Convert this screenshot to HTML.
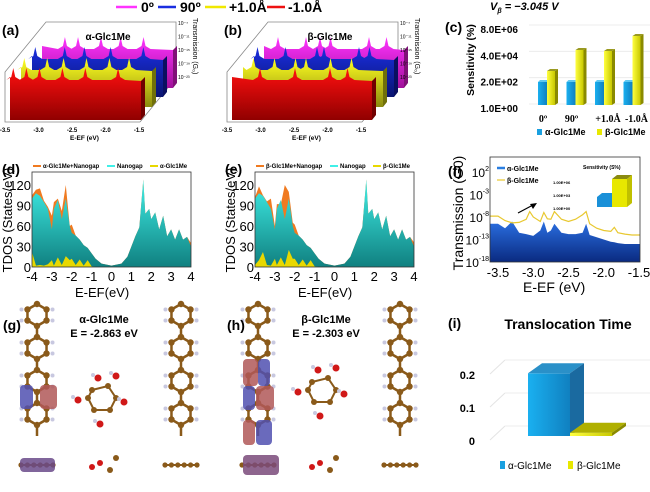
<!DOCTYPE html>
<html><head><meta charset="utf-8"><style>
body{margin:0;background:#fff;width:650px;height:487px;overflow:hidden;font-family:"Liberation Sans",sans-serif}
svg text{font-family:"Liberation Sans","DejaVu Sans",sans-serif}
</style></head><body>
<svg id="s" width="650" height="487" viewBox="0 0 650 487">
<defs>
<linearGradient id="gm" x1="0" y1="0" x2="0" y2="1"><stop offset="0" stop-color="#ff33ff"/><stop offset="1" stop-color="#a0109a"/></linearGradient>
<linearGradient id="gb" x1="0" y1="0" x2="0" y2="1"><stop offset="0" stop-color="#1a2ee0"/><stop offset="1" stop-color="#0a1470"/></linearGradient>
<linearGradient id="gy" x1="0" y1="0" x2="0" y2="1"><stop offset="0" stop-color="#ffff20"/><stop offset="1" stop-color="#8a8a10"/></linearGradient>
<linearGradient id="gr" x1="0" y1="0" x2="0" y2="1"><stop offset="0" stop-color="#ff1010"/><stop offset="1" stop-color="#900000"/></linearGradient>
<linearGradient id="gc" x1="0" y1="0" x2="0" y2="1"><stop offset="0" stop-color="#40f0e8"/><stop offset="1" stop-color="#108080"/></linearGradient>
<linearGradient id="gf" x1="0" y1="0" x2="0" y2="1"><stop offset="0" stop-color="#2a6ee0"/><stop offset="1" stop-color="#0a2a80"/></linearGradient>
<linearGradient id="gbar" x1="0" y1="0" x2="1" y2="0"><stop offset="0" stop-color="#1ab0f0"/><stop offset="1" stop-color="#1080c0"/></linearGradient>
<linearGradient id="ybar" x1="0" y1="0" x2="1" y2="0"><stop offset="0" stop-color="#ffff40"/><stop offset="1" stop-color="#c8c800"/></linearGradient>
</defs>
<g font-weight="bold" font-size="14">
<line x1="116" y1="7" x2="137" y2="7" stroke="#ff33ff" stroke-width="2.5"/><text x="141" y="12">0º</text>
<line x1="158" y1="7" x2="176" y2="7" stroke="#1a2ee0" stroke-width="2.5"/><text x="180" y="12">90º</text>
<line x1="205" y1="7" x2="226" y2="7" stroke="#f0e800" stroke-width="2.5"/><text x="229" y="12">+1.0Å</text>
<line x1="267" y1="7" x2="285" y2="7" stroke="#ee1111" stroke-width="2.5"/><text x="288" y="12">-1.0Å</text>
</g>
<text x="490" y="10" font-size="11" font-style="italic" font-weight="bold" font-family="Liberation Serif">V<tspan font-size="7" dy="3">β</tspan><tspan dy="-3"> = −3.045 V</tspan></text>
<g id="pa"></g><g id="pb"></g><g id="pc"></g><g id="pd"></g><g id="pe"></g><g id="pf"></g><g id="pg"></g><g id="pi"></g>
</svg>
<script>
const NS="http://www.w3.org/2000/svg";
function mk(p,t,a,txt){const e=document.createElementNS(NS,t);for(const k in a)e.setAttribute(k,a[k]);if(txt!==undefined)e.textContent=txt;p.appendChild(e);return e;}
// ---- data ----
const waterfallLayersA=[[-3.15,-2.95,-2.6,-2.3,-1.95],[-3.45,-3.0,-2.7,-2.3,-1.8],[-3.45,-3.1,-2.85,-2.5,-2.15,-1.85],[-3.45,-3.25,-3.05,-2.7,-2.35,-1.85]];
const waterfallLayersB=[[-3.3,-2.9,-2.7,-2.55,-2.0,-1.75],[-3.45,-3.05,-2.6,-2.5,-2.0,-1.85],[-3.35,-3.05,-2.75,-2.6,-2.25,-1.95],[-3.1,-2.6,-2.1,-1.85]];
const sensCats=["0º","90º","+1.0Å","-1.0Å"];
const sensAlpha=[2.3,2.3,2.3,2.3];
const sensBeta=[3.4,5.5,5.4,6.9];
const sensTicks=[0,2.3,4.6,6.9];const sensTickLabels=["1.0E+00","2.0E+02","4.0E+04","8.0E+06"];
const dosE=[-4,-3.8,-3.6,-3.4,-3.2,-3,-2.9,-2.7,-2.5,-2.3,-2.1,-2,-1.8,-1.6,-1.4,-1.2,-1,-0.8,-0.5,0,0.5,0.8,1,1.2,1.4,1.6,1.7,1.9,2,2.2,2.4,2.6,2.8,3,3.2,3.4,3.6,3.8,4];
const dosGap=[100,108,104,95,85,55,85,98,70,100,60,50,46,40,32,28,20,12,5,2,5,15,30,45,58,128,78,85,70,80,55,75,45,55,40,55,40,44,30];
const dosComplexA=[105,113,115,97,88,75,95,100,82,120,60,62,46,40,32,28,20,12,5,2,5,15,30,45,58,128,78,85,70,80,55,75,45,55,40,55,40,44,35];
const dosMolA=[22,2,3,2,4,10,2,14,3,16,10,12,3,11,2,10,1,0,0,0,0,0,0,0,0,0,0,0,0,0,0,0,0,0,0,0,0,0,0];
const dosComplexB=[102,118,105,96,100,60,92,92,120,110,65,62,46,40,32,28,20,12,5,2,5,15,30,45,58,128,78,85,70,80,55,75,45,55,40,55,40,44,36];
const dosMolB=[3,10,22,3,2,12,3,14,3,25,12,12,3,11,2,10,1,0,0,0,0,0,0,0,0,0,0,0,0,0,0,0,0,0,0,0,0,0,0];
const trE=[-3.5,-3.4,-3.3,-3.2,-3.1,-3.05,-3.0,-2.9,-2.85,-2.8,-2.75,-2.7,-2.6,-2.5,-2.4,-2.3,-2.25,-2.2,-2.1,-2.0,-1.9,-1.85,-1.8,-1.7,-1.6,-1.5];
const trAlpha=[-9.5,-10.5,-9,-11.5,-11.8,-12,-12.2,-11,-9,-11.5,-11,-9.5,-11.5,-11.8,-11.8,-11.5,-9.5,-12,-12.5,-13,-13.5,-13.6,-13.8,-14,-14,-14];
const trBeta=[-7.8,-8.8,-9.3,-9.2,-8.5,-6.8,-8,-9,-7,-8.4,-8.5,-6.8,-8.5,-9,-8.5,-7.5,-6.8,-9.5,-10.5,-11,-11.2,-10.3,-11.5,-11.8,-12,-12];
const trTicks=[2,-3,-8,-13,-18];
const transCats=["α-Glc1Me","β-Glc1Me"];const transVals=[0.19,0.01];const transTicks=[0,0.1,0.2];
// ---- (a),(b) waterfall ----
function waterfall(g,ox,label,layers,title,w){
  mk(g,"text",{x:ox+2,y:35,"font-size":14,"font-weight":"bold",},label);
  mk(g,"polyline",{points:`${ox+140},122 ${ox+5},122 ${ox+5},72 ${ox+46},22 ${ox+176},22 ${ox+176},78 ${ox+140},122`,fill:"none",stroke:"#888","stroke-width":0.8});
  const cols=["url(#gm)","url(#gb)","url(#gy)","url(#gr)"],side=["#801078","#0a1060","#70700a","#700000"],names=["layer-0deg","layer-90deg","layer-plus1","layer-minus1"];
  const offs=[[42,46,88],[32,56,97],[21,67,107],[10,77,120]];
  const ex=e=>(e+3.5)/2*w;
  for(let i=0;i<4;i++){const [dx,top,bot]=offs[i];const x0=ox+dx,x1=x0+w;
    let pts=`${x0},${bot} ${x0},${top}`;
    const sp=layers[i].slice().sort((a,b)=>a-b);
    for(const e of sp){const x=x0+ex(e);pts+=` ${x-7},${top+3} ${x-2},${top} ${x},${top-9} ${x+2},${top} ${x+7},${top+3}`;}
    pts+=` ${x1},${top+4} ${x1},${bot}`;
    const p=mk(g,"polygon",{points:pts,fill:cols[i]});
    mk(g,"polygon",{points:`${x1},${top+4} ${x1+4},${top} ${x1+4},${bot-5} ${x1},${bot}`,fill:side[i]});
  }
  mk(g,"text",{x:ox+108,y:40,"font-size":10,"font-weight":"bold","text-anchor":"middle",},title);
  [-3.5,-3,-2.5,-2,-1.5].forEach((v,k)=>mk(g,"text",{x:ox+5+k*33.5,y:132,"font-size":6,"font-weight":"bold","text-anchor":"middle",},v.toFixed(1)));
  mk(g,"text",{x:ox+70,y:140,"font-size":6.5,"font-weight":"bold",},"E-EF (eV)");
  ["10⁻⁷","10⁻¹¹","10⁻¹⁵","10⁻¹⁹","10⁻²³"].forEach((t,k)=>mk(g,"text",{x:ox+178,y:25+k*13.5,"font-size":5,},t));
  mk(g,"text",{x:ox+193,y:18,"font-size":7,transform:`rotate(90 ${ox+193} 18)`,},"Transmission (G₀)");
}
waterfall(document.getElementById("pa"),0,"(a)",waterfallLayersA,"α-Glc1Me",131);
waterfall(document.getElementById("pb"),222,"(b)",waterfallLayersB,"β-Glc1Me",140);
// ---- (c) sensitivity ----
(function(){const g=document.getElementById("pc");
 mk(g,"text",{x:445,y:32,"font-size":14,"font-weight":"bold",},"(c)");
 const yt=v=>112-v*11.45;const base=105;const yb=v=>base-v*10;
 sensTicks.forEach((t,i)=>{mk(g,"line",{x1:529,y1:yt(t)-8,x2:650,y2:yt(t)-8,stroke:"#ececec"});mk(g,"text",{x:518,y:yt(t),"font-size":10,"font-weight":"bold","text-anchor":"end",},sensTickLabels[i]);});
 mk(g,"text",{x:474,y:60,"font-size":10.5,"font-weight":"bold","text-anchor":"middle",transform:"rotate(-90 474 60)",},"Sensitivity (%)");
 sensCats.forEach((c,i)=>{const cx=547+i*28.5;
  const ya=yb(sensAlpha[i]),yy=yb(sensBeta[i]);
  const a=mk(g,"rect",{x:cx-9,y:ya,width:9,height:base-ya,fill:"url(#gbar)"});
  mk(g,"polygon",{points:`${cx-9},${ya} ${cx-7},${ya-2} ${cx+2},${ya-2} ${cx},${ya}`,fill:"#60c8f0"});
  const b=mk(g,"rect",{x:cx,y:yy,width:8,height:base-yy,fill:"url(#ybar)"});
  mk(g,"polygon",{points:`${cx+8},${yy} ${cx+11},${yy-2} ${cx+11},${base-2} ${cx+8},${base}`,fill:"#8a8a00"});
  mk(g,"polygon",{points:`${cx},${yy} ${cx+3},${yy-2} ${cx+11},${yy-2} ${cx+8},${yy}`,fill:"#9a9a20"});
  mk(g,"text",{x:cx-4+(i>1?8:0),y:122,"font-size":10,"font-weight":"bold","text-anchor":"middle",style:"font-family:'Liberation Serif'",},c);});
 mk(g,"rect",{x:537,y:129,width:5,height:6,fill:"#1aa0e0"});mk(g,"text",{x:545,y:135,"font-size":9,"font-weight":"bold",},"α-Glc1Me");
 mk(g,"rect",{x:597,y:129,width:5,height:6,fill:"#e8e800"});mk(g,"text",{x:605,y:135,"font-size":9,"font-weight":"bold",},"β-Glc1Me");
})();
// ---- (d),(e) DOS ----
function dos(g,ox,label,comp,mol,pre){
 const X0=ox+32,X1=ox+191,Y0=267;const x=e=>X0+(e+4)/8*(X1-X0),y=v=>Y0-v/120*82;
 mk(g,"text",{x:ox+2,y:174,"font-size":14,"font-weight":"bold",},label);
 const area=(arr,fill,name)=>{let d=`M${x(-4)},${Y0}`;dosE.forEach((e,i)=>d+=` L${x(e)},${y(arr[i])}`);d+=` L${x(4)},${Y0}Z`;const p=mk(g,"path",{d,fill});};
 area(comp,"#f07a20","dos-complex");area(dosGap,"url(#gc)","dos-nanogap");area(mol,"#e8d800","dos-molecule");
 mk(g,"rect",{x:X0,y:172,width:X1-X0,height:Y0-172,fill:"none",stroke:"#333","stroke-width":0.8});
 [0,30,60,90,120].forEach(v=>{mk(g,"text",{x:X0-1,y:y(v)+5,"font-size":13,"text-anchor":"end",},v);});
 for(let e=-4;e<=4;e++)mk(g,"text",{x:x(e),y:281,"font-size":13,"text-anchor":"middle",},e);
 mk(g,"text",{x:ox+75,y:297,"font-size":13,},"E-EF(eV)");
 mk(g,"text",{x:ox+12,y:220,"font-size":13,"text-anchor":"middle",transform:`rotate(-90 ${ox+12} 220)`,},"TDOS (States/eV)");
 const L=[[ox+33,"#f07a20",pre+"+Nanogap"],[ox+107,"#40f0e8","Nanogap"],[ox+150,"#e8d800",pre]];
 L.forEach(([lx,c,t])=>{mk(g,"line",{x1:lx,y1:166,x2:lx+8,y2:166,stroke:c,"stroke-width":2});mk(g,"text",{x:lx+10,y:168,"font-size":6,"font-weight":"bold",},t);});
}
dos(document.getElementById("pd"),0,"(d)",dosComplexA,dosMolA,"α-Glc1Me");
dos(document.getElementById("pe"),223,"(e)",dosComplexB,dosMolB,"β-Glc1Me");
// ---- (f) transmission ----
(function(){const g=document.getElementById("pf");const X0=490,X1=640,Y0=262,Y1=157;
 const x=e=>498+(e+3.5)/2*141,y=v=>262-(v+18)/20*90;
 mk(g,"text",{x:448,y:176,"font-size":14,"font-weight":"bold",},"(f)");
 let d=`M${X0},${Y0} L${X0},${y(trAlpha[0])}`;trE.forEach((e,i)=>d+=` L${x(e)},${y(trAlpha[i])}`);d+=` L${X1},${y(trAlpha[trAlpha.length-1])} L${X1},${Y0}Z`;
 const a=mk(g,"path",{d,fill:"url(#gf)"});
 const b=mk(g,"polyline",{points:`${X0},${y(trBeta[0])} `+trE.map((e,i)=>x(e)+","+y(trBeta[i])).join(" ")+` ${X1},${y(trBeta[trBeta.length-1])}`,fill:"none",stroke:"#e8c830","stroke-width":1.2});
 mk(g,"rect",{x:X0,y:Y1,width:X1-X0,height:Y0-Y1,fill:"none",stroke:"#333","stroke-width":0.8});
 trTicks.forEach(t=>{const tx=mk(g,"text",{x:X0-1,y:y(t)+5,"font-size":12,"text-anchor":"end",},"10");mk(tx,"tspan",{dy:-6,"font-size":7},t);});
 [-3.5,-3,-2.5,-2,-1.5].forEach(v=>mk(g,"text",{x:x(v),y:277,"font-size":13,"text-anchor":"middle",},v.toFixed(1)));
 mk(g,"text",{x:523,y:292,"font-size":14,},"E-EF (eV)");
 mk(g,"text",{x:463,y:213,"font-size":14,"text-anchor":"middle",transform:"rotate(-90 463 213)",},"Transmission (G0)");
 mk(g,"line",{x1:497,y1:168,x2:505,y2:168,stroke:"#2a7ee0","stroke-width":2.5});mk(g,"text",{x:507,y:171,"font-size":7,"font-weight":"bold",},"α-Glc1Me");
 mk(g,"line",{x1:497,y1:180,x2:505,y2:180,stroke:"#e8c830","stroke-width":1.2});mk(g,"text",{x:507,y:183,"font-size":7,"font-weight":"bold",},"β-Glc1Me");
 mk(g,"text",{x:583,y:169,"font-size":5,"font-weight":"bold",},"Sensitivity (S%)");
 ["1.00E+06","1.00E+03","1.00E+00"].forEach((t,i)=>mk(g,"text",{x:553,y:184+i*13,"font-size":4,"font-weight":"bold",},t));
 mk(g,"polygon",{points:"597,197 602,193 612,193 612,207 597,207",fill:"#1a90d8"});
 mk(g,"rect",{x:612,y:179,width:15,height:28,fill:"#e8e800"});mk(g,"polygon",{points:"612,179 617,175 632,175 627,179",fill:"#8a8a10"});mk(g,"polygon",{points:"627,179 632,175 632,203 627,207",fill:"#c0c000"});
 mk(g,"line",{x1:518,y1:213,x2:533,y2:205,stroke:"#000","stroke-width":1.2});mk(g,"polygon",{points:"537,203 530,204 533,209"});
})();
// ---- (g),(h) molecules ----
(function(){const g=document.getElementById("pg");
 function chain(cx,top,name){const c=mk(g,"g",{});
  for(let k=0;k<4;k++){const yc=top+10+k*33;const pts=[];for(let a=0;a<6;a++){const an=Math.PI/3*a+Math.PI/6;pts.push([cx+11*Math.cos(an),yc+11*Math.sin(an)]);}
   mk(c,"polygon",{points:pts.map(p=>p.join(",")).join(" "),fill:"none",stroke:"#8a5a1a","stroke-width":2.5});
   mk(c,"line",{x1:cx,y1:yc+11,x2:cx,y2:yc+22,stroke:"#8a5a1a","stroke-width":2.5});
   pts.forEach(p=>mk(c,"circle",{cx:p[0],cy:p[1],r:3.2,fill:"#8a5a1a"}));
   [pts[0],pts[2],pts[3],pts[5]].forEach(p=>mk(c,"circle",{cx:p[0]+(p[0]>cx?6:-6),cy:p[1],r:2,fill:"#c8c8e0"}));}
  mk(c,"line",{x1:cx-17,y1:465,x2:cx+17,y2:465,stroke:"#8a5a1a","stroke-width":2});
  for(let k=0;k<6;k++)mk(c,"circle",{cx:cx-16+k*6.4,cy:465,r:2.6,fill:"#8a5a1a"});}
 function sugar(cx,cy,name){const c=mk(g,"g",{});
  const pts=[[-10,-8],[6,-12],[14,0],[8,12],[-8,12],[-14,0]];
  mk(c,"polygon",{points:pts.map(p=>(cx+p[0])+","+(cy+p[1])).join(" "),fill:"none",stroke:"#8a5a1a","stroke-width":2});
  pts.forEach(p=>mk(c,"circle",{cx:cx+p[0],cy:cy+p[1],r:3,fill:"#8a5a1a"}));
  [[-4,-20],[-24,2],[-2,26],[14,-22],[22,4]].forEach(p=>{mk(c,"circle",{cx:cx+p[0],cy:cy+p[1],r:3.5,fill:"#d01818"});mk(c,"circle",{cx:cx+p[0]-5,cy:cy+p[1]-3,r:2,fill:"#c8c8e0"});});
  [[-2,463],[8,470],[-10,467],[14,458]].forEach(p=>mk(c,"circle",{cx:cx+p[0],cy:p[1],r:3,fill:p[0]>0?"#8a5a1a":"#d01818"}));}
 function orb(x,y,w,h,col){mk(g,"rect",{x,y,width:w,height:h,rx:4,fill:col,opacity:0.85});}
 chain(37,305,"alpha-left-electrode");chain(181,305,"alpha-right-electrode");
 chain(258,305,"beta-left-electrode");chain(400,305,"beta-right-electrode");
 orb(20,385,13,24,"#5050b0");orb(40,385,17,24,"#b05858");
 orb(243,359,15,27,"#b05858");orb(258,359,12,27,"#5050b0");orb(243,386,12,24,"#5050b0");orb(256,386,18,24,"#b05858");
 orb(243,420,12,25,"#b05858");orb(256,420,16,25,"#5050b0");orb(20,458,35,14,"#6a4a8a");orb(243,455,36,20,"#7a4a7a");
 sugar(102,398,"alpha-glc1me-molecule");sugar(322,390,"beta-glc1me-molecule");
 mk(g,"text",{x:3,y:330,"font-size":14,"font-weight":"bold",},"(g)");
 mk(g,"text",{x:227,y:330,"font-size":14,"font-weight":"bold",},"(h)");
 mk(g,"text",{x:104,y:323,"font-size":11,"font-weight":"bold","text-anchor":"middle",},"α-Glc1Me");
 mk(g,"text",{x:104,y:337,"font-size":11,"font-weight":"bold","text-anchor":"middle",},"E = -2.863 eV");
 mk(g,"text",{x:326,y:323,"font-size":11,"font-weight":"bold","text-anchor":"middle",},"β-Glc1Me");
 mk(g,"text",{x:326,y:337,"font-size":11,"font-weight":"bold","text-anchor":"middle",},"E = -2.303 eV");
})();
// ---- (i) translocation ----
(function(){const g=document.getElementById("pi");const base=436;const y=v=>base-v/0.2*66;
 mk(g,"text",{x:448,y:328,"font-size":14,"font-weight":"bold",},"(i)");
 mk(g,"text",{x:568,y:329,"font-size":14,"font-weight":"bold","text-anchor":"middle",},"Translocation Time");
 transTicks.forEach(t=>{mk(g,"line",{x1:490,y1:y(t)+4,x2:505,y2:y(t)-10,stroke:"#e4e4e4"});mk(g,"line",{x1:505,y1:y(t)-10,x2:650,y2:y(t)-10,stroke:"#eee"});
  mk(g,"text",{x:475,y:y(t)+9,"font-size":11,"font-weight":"bold","text-anchor":"end",},t);});
 const fr=[["url(#gbar)","#1a6aa0","#2a90c8"],["url(#ybar)","#8a8a00","#b0b000"]];
 transVals.forEach((v,i)=>{const x0=528+i*42,top=y(v);
  const r=mk(g,"rect",{x:x0,y:top,width:42,height:base-top,fill:fr[i][0]});
  mk(g,"polygon",{points:`${x0},${top} ${x0+14},${top-10} ${x0+56},${top-10} ${x0+42},${top}`,fill:fr[i][2]});
  mk(g,"polygon",{points:`${x0+42},${top} ${x0+56},${top-10} ${x0+56},${base-10} ${x0+42},${base}`,fill:fr[i][1]});});
 mk(g,"rect",{x:500,y:461,width:5,height:8,fill:"#1aa0e0"});mk(g,"text",{x:508,y:469,"font-size":10,},transCats[0]);
 mk(g,"rect",{x:568,y:461,width:5,height:8,fill:"#e8e800"});mk(g,"text",{x:577,y:469,"font-size":10,},transCats[1]);
})();
</script>
</body></html>
